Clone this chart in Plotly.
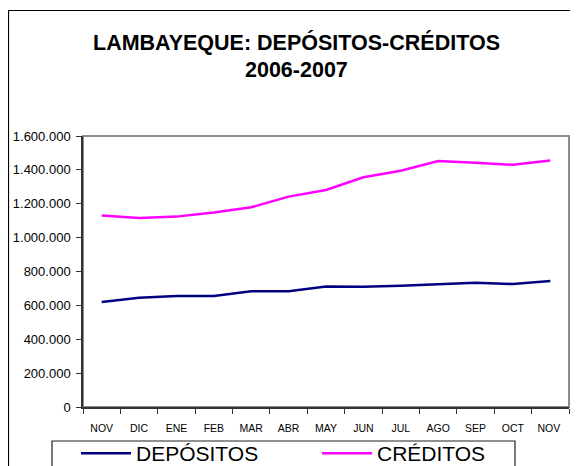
import plotly.graph_objects as go

months = ["NOV", "DIC", "ENE", "FEB", "MAR", "ABR", "MAY", "JUN", "JUL", "AGO", "SEP", "OCT", "NOV "]
depositos = [620000, 645000, 655000, 655000, 683000, 683000, 712000, 710000, 716000, 724000, 733000, 726000, 744000]
creditos = [1131000, 1116000, 1124000, 1149000, 1179000, 1242000, 1281000, 1356000, 1395000, 1452000, 1442000, 1430000, 1456000]
y_ticks = [0, 200000, 400000, 600000, 800000, 1000000, 1200000, 1400000, 1600000]

# page has an 8px body margin: figure is offset by 8px
OFF = 8
W, H = 578 - OFF, 466 - OFF
L, T = 83 - OFF, 136 - OFF
R = W - (569 - OFF)
B = H - (407 - OFF)
pw, ph = W - L - R, H - T - B

def px(x):  # x in reference page pixels -> paper
    return (x - OFF - L) / pw

def py(y):  # y in reference page pixels -> paper
    return (H - B - (y - OFF)) / ph

fig = go.Figure()
fig.add_trace(go.Scatter(x=months, y=depositos, mode="lines", name="DEPÓSITOS",
                         line=dict(color="#000080", width=2.5)))
fig.add_trace(go.Scatter(x=months, y=creditos, mode="lines", name="CRÉDITOS",
                         line=dict(color="#FF00FF", width=2.5)))

font = "Liberation Sans, Arial, sans-serif"
fig.update_layout(
    width=W, height=H,
    margin=dict(l=L, r=R, t=T, b=B, autoexpand=False),
    paper_bgcolor="white", plot_bgcolor="white",
    separators=",.",
    font=dict(family=font, color="black"),
    showlegend=True,
    legend=dict(orientation="h", x=px(76), y=py(433), xanchor="left", yanchor="top",
                borderwidth=0, bgcolor="rgba(0,0,0,0)",
                font=dict(size=21, family=font, color="black"),
                entrywidth=176, entrywidthmode="pixels", itemwidth=50,
                tracegroupgap=0),
    xaxis=dict(type="category", range=[-0.5, 12.5], showline=True, linecolor="#333", linewidth=1.5,
               ticks="outside", ticklen=5, tickcolor="#333", tickson="boundaries",
               showgrid=False, tickfont=dict(size=10.5, family=font, color="black"),
               ticklabelstandoff=11, fixedrange=True, automargin=False),
    yaxis=dict(range=[0, 1600000], tickvals=y_ticks, tickformat=",d",
               showline=True, linecolor="#333", linewidth=1.5,
               ticks="outside", ticklen=5, tickcolor="#333", showgrid=False,
               zeroline=False, tickfont=dict(size=13, family=font, color="black"),
               ticklabelstandoff=3, fixedrange=True, automargin=False),
    shapes=[
        dict(type="rect", xref="paper", yref="paper", x0=0, x1=1, y0=0, y1=1,
             line=dict(color="#8c8c8c", width=2), layer="below"),
        dict(type="rect", xref="paper", yref="paper", x0=px(8.5), x1=px(620),
             y0=py(520), y1=py(10.5), line=dict(color="black", width=1.2), layer="below"),
        dict(type="rect", xref="paper", yref="paper", x0=px(52), x1=px(515),
             y0=py(520), y1=py(441), line=dict(color="#222", width=1.2), layer="below"),
    ],
    annotations=[
        dict(text="<b>LAMBAYEQUE: DEPÓSITOS-CRÉDITOS</b>", xref="paper", yref="paper",
             x=px(296), y=py(42), xanchor="center", yanchor="middle", showarrow=False,
             font=dict(size=21.5, family=font, color="black")),
        dict(text="<b>2006-2007</b>", xref="paper", yref="paper",
             x=px(296), y=py(70), xanchor="center", yanchor="middle", showarrow=False,
             font=dict(size=21.5, family=font, color="black")),
    ],
)

fig.write_html("out.html")
